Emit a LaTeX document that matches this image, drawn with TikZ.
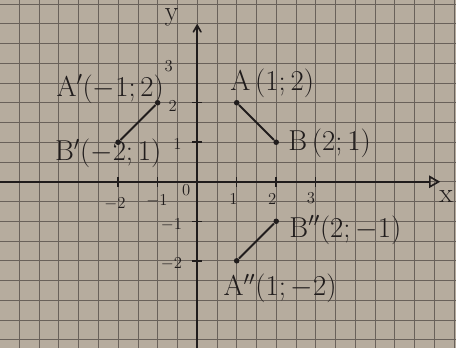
\documentclass[tikz,border=0pt]{standalone}
\usepackage{amsmath}
\usepackage{amssymb}
\usepackage{tikz}
\usetikzlibrary{arrows}
\usetikzlibrary{calc,backgrounds,positioning}

\definecolor{paper}{RGB}{182,172,158}
\definecolor{gridcol}{RGB}{105,97,90}
\definecolor{ink}{RGB}{32,28,28}

\begin{document}
\begin{tikzpicture}[semithick,
    gridline/.style={gridcol,line width=0.55pt},
    axis/.style={ink,line width=1.2pt},
    tick/.style={ink,line width=1.1pt},
    seg/.style={ink,line width=1.4pt},
    dot/.style={circle,fill=ink,inner sep=0pt,minimum size=4pt},
    lbl/.style={ink,font=\fontsize{20}{22}\selectfont},
    num/.style={ink,font=\fontsize{12}{14}\selectfont}]
	  \fill[paper] (-4.99,-4.21) rectangle (6.55,4.6);
	  \useasboundingbox (-4.99,-4.21) rectangle (6.55,4.6);
	  \draw[gridline,step=0.5] (-4.99,-4.21) grid (6.55,4.6);
	  % axes
	  \coordinate (xstart) at (-4.99,0);
	  \coordinate (xend)   at (6.15,0);
	  \coordinate (ystart) at (0,-4.21);
	  \coordinate (yend)   at (0,4.0);
	  \draw[axis,-open triangle 60] (xstart) -- (xend);
	  \draw[axis,->,>=angle 60] (ystart) -- (yend);
	  \node[lbl] (xl) at (6.3,-0.38) {x};
	  \node[lbl] (yl) at (-0.65,4.15) {y};
	  \node[num] (o) at (-0.28,-0.22) {0};
	  % ticks
	  \foreach \i in {-2,-1,1,2,3}
	    \draw[tick] (\i,-0.12) -- (\i,0.12);
	  \foreach \j in {-2,-1,1,2}
	    \draw[tick] (-0.12,\j) -- (0.12,\j);
	  \node[num] (tx1) at (0.92,-0.43) {1};
	  \node[num] (tx2) at (1.9,-0.43) {2};
	  \node[num] (tx3) at (2.88,-0.42) {3};
	  \node[num] (txm1) at (-1.02,-0.47) {$-1$};
	  \node[num] (txm2) at (-2.08,-0.55) {$-2$};
	  \node[num] (ty1) at (-0.5,0.95) {1};
	  \node[num] (ty2) at (-0.62,1.92) {2};
	  \node[num] (ty3) at (-0.72,2.93) {3};
	  \node[num] (tym1) at (-0.65,-1.08) {$-1$};
	  \node[num] (tym2) at (-0.65,-2.07) {$-2$};
	  % points
	  \node[dot] (A)   at (1,2)   {};
	  \node[dot] (B)   at (2,1)   {};
	  \node[dot] (A1)  at (-1,2)  {};
	  \node[dot] (B1)  at (-2,1)  {};
	  \node[dot] (A2)  at (1,-2)  {};
	  \node[dot] (B2)  at (2,-1)  {};
	  \path[seg]
(A) edge (B)
(A1) edge (B1)
(A2) edge (B2)
;
	  \node[lbl] (Al)  at (1.9,2.5)    {$\mathrm{A\,(1;2)}$};
	  \node[lbl] (Bl)  at (3.35,0.98)  {$\mathrm{B\,(2;1)}$};
	  \node[lbl] (A1l) at (-2.2,2.35)  {$\mathrm{A'(-1;2)}$};
	  \node[lbl] (B1l) at (-2.25,0.72) {$\mathrm{B'(-2;1)}$};
	  \node[lbl] (B2l) at (3.75,-1.22) {$\mathrm{B''(2;-1)}$};
	  \node[lbl] (A2l) at (2.1,-2.7)   {$\mathrm{A''(1;-2)}$};
	\end{tikzpicture}
\end{document}
